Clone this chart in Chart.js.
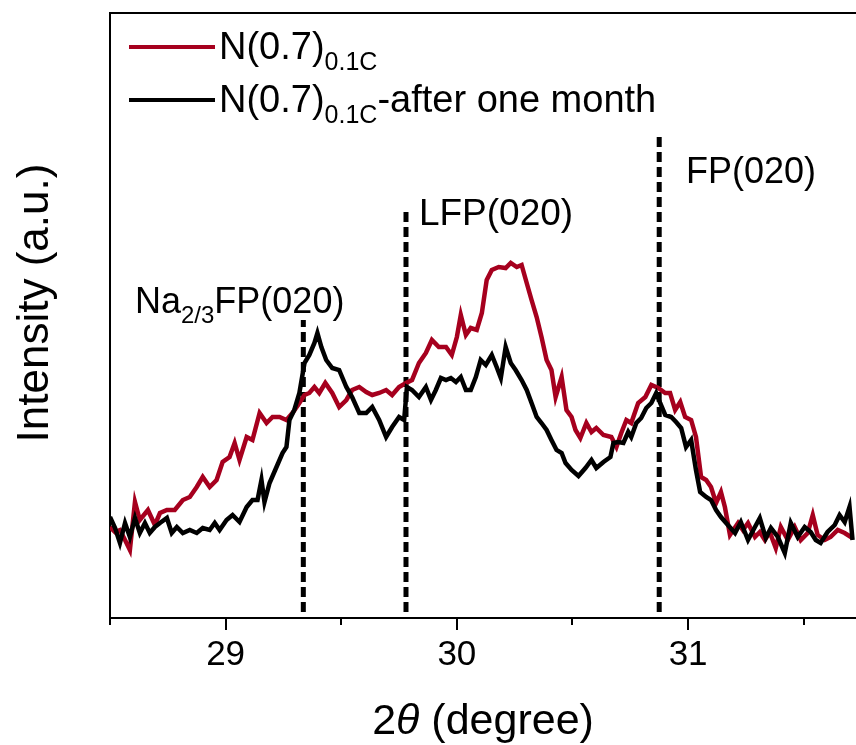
<!DOCTYPE html>
<html>
<head>
<meta charset="utf-8">
<script src="https://cdn.jsdelivr.net/npm/chart.js@4.4.1/dist/chart.umd.min.js"></script>
<style>
  html, body { margin: 0; padding: 0; background: #fff; }
  #wrap { position: relative; width: 856px; height: 745px; }
</style>
</head>
<body>
<div id="wrap"><canvas id="xrdChart" width="856" height="745"></canvas></div>
<script>
// 2theta (degree) / intensity (a.u.)
const redX = [
  28.500, 28.522, 28.543, 28.565, 28.586, 28.608, 28.629, 28.664, 28.694, 28.716,
  28.746, 28.780, 28.815, 28.845, 28.875, 28.901, 28.931, 28.961, 28.987, 29.017,
  29.039, 29.060, 29.091, 29.116, 29.147, 29.177, 29.203, 29.233, 29.263, 29.289,
  29.319, 29.341, 29.362, 29.384, 29.405, 29.431, 29.461, 29.491, 29.522, 29.547,
  29.578, 29.608, 29.634, 29.664, 29.694, 29.720, 29.750, 29.780, 29.806, 29.836,
  29.866, 29.892, 29.922, 29.953, 29.978, 30.000, 30.017, 30.039, 30.060, 30.086,
  30.108, 30.129, 30.151, 30.181, 30.211, 30.233, 30.259, 30.280, 30.302, 30.323,
  30.345, 30.366, 30.388, 30.409, 30.427, 30.440, 30.453, 30.474, 30.496, 30.513,
  30.534, 30.560, 30.582, 30.603, 30.634, 30.668, 30.690, 30.711, 30.733, 30.754,
  30.784, 30.815, 30.841, 30.871, 30.901, 30.922, 30.944, 30.966, 30.987, 31.013,
  31.034, 31.056, 31.078, 31.099, 31.121, 31.142, 31.159, 31.181, 31.216, 31.237,
  31.259, 31.289, 31.310, 31.332, 31.353, 31.379, 31.401, 31.431, 31.461, 31.487,
  31.517, 31.539, 31.560, 31.591, 31.616, 31.647, 31.677, 31.711
];
const redY = [
  91, 86, 88, 78, 68, 116, 98, 108, 93, 105,
  108, 108, 118, 121, 131, 141, 131, 138, 156, 161,
  175, 158, 181, 178, 205, 195, 201, 201, 198, 205,
  215, 223, 225, 231, 225, 235, 225, 211, 218, 228,
  231, 226, 223, 225, 228, 223, 231, 235, 238, 255,
  265, 278, 271, 271, 263, 281, 303, 283, 290, 288,
  305, 338, 348, 351, 350, 355, 351, 353, 335, 318,
  301, 281, 258, 248, 221, 231, 241, 208, 201, 188,
  180, 195, 186, 190, 183, 181, 171, 185, 198, 195,
  215, 221, 233, 230, 225, 225, 208, 216, 201, 198,
  181, 141, 138, 131, 115, 126, 111, 83, 95, 88,
  95, 81, 86, 78, 86, 70, 91, 78, 91, 78,
  85, 103, 83, 78, 81, 88, 85, 80
];

const blackX = [
  28.500, 28.522, 28.543, 28.565, 28.586, 28.608, 28.629, 28.651, 28.672, 28.694,
  28.716, 28.746, 28.767, 28.789, 28.815, 28.845, 28.875, 28.901, 28.931, 28.953,
  28.974, 29.004, 29.030, 29.060, 29.091, 29.116, 29.138, 29.155, 29.168, 29.190,
  29.220, 29.246, 29.263, 29.276, 29.297, 29.319, 29.341, 29.362, 29.384, 29.397,
  29.414, 29.435, 29.461, 29.491, 29.522, 29.547, 29.578, 29.608, 29.634, 29.664,
  29.694, 29.720, 29.750, 29.772, 29.784, 29.806, 29.836, 29.866, 29.888, 29.909,
  29.931, 29.953, 29.974, 29.996, 30.017, 30.039, 30.060, 30.082, 30.103, 30.125,
  30.151, 30.172, 30.190, 30.211, 30.233, 30.254, 30.280, 30.302, 30.323, 30.345,
  30.366, 30.388, 30.409, 30.431, 30.453, 30.470, 30.496, 30.526, 30.556, 30.582,
  30.603, 30.634, 30.664, 30.677, 30.698, 30.720, 30.741, 30.754, 30.776, 30.797,
  30.819, 30.841, 30.862, 30.879, 30.901, 30.927, 30.948, 30.970, 30.991, 31.013,
  31.034, 31.052, 31.078, 31.099, 31.121, 31.142, 31.172, 31.203, 31.228, 31.259,
  31.289, 31.310, 31.336, 31.358, 31.388, 31.418, 31.444, 31.474, 31.504, 31.530,
  31.552, 31.573, 31.603, 31.634, 31.655, 31.677, 31.698, 31.711
];
const blackY = [
  101, 90, 75, 95, 81, 100, 85, 95, 85, 91,
  95, 100, 85, 91, 85, 88, 85, 90, 88, 95,
  88, 98, 103, 96, 111, 118, 118, 138, 116, 135,
  151, 165, 171, 198, 208, 225, 255, 263, 275, 285,
  271, 258, 250, 248, 231, 221, 205, 205, 211, 198,
  181, 191, 201, 198, 231, 228, 221, 231, 218, 228,
  240, 238, 240, 236, 241, 228, 228, 241, 258, 253,
  263, 251, 240, 271, 255, 248, 238, 228, 215, 201,
  195, 188, 178, 168, 165, 155, 148, 142, 150, 158,
  150, 156, 161, 175, 176, 175, 186, 181, 195, 200,
  210, 215, 225, 215, 203, 201, 196, 190, 171, 178,
  148, 126, 121, 118, 108, 101, 93, 85, 96, 78,
  91, 100, 80, 90, 81, 65, 95, 81, 91, 86,
  78, 75, 86, 93, 103, 96, 111, 78
];

// reference peak positions (dashed markers)
const markerX = [29.336, 29.780, 30.875];
const markerTop = [298, 411, 483];
const markerBase = 6;

const majorTicks = [29, 30, 31];
const minorTicks = [28.5, 29.5, 30.5, 31.5];

const RED = "#a6001e";
const FONT = "'Liberation Sans', Arial, sans-serif";

function zip(xs, ys) {
  return xs.map((x, i) => ({ x, y: ys[i] }));
}

function runsWidth(ctx, runs) {
  let w = 0;
  runs.forEach((r) => {
    ctx.font = `${r.italic ? "italic " : ""}${r.size}px ${FONT}`;
    w += ctx.measureText(r.text).width;
  });
  return w;
}

function drawRuns(ctx, x, y, runs) {
  let cx = x;
  runs.forEach((r) => {
    ctx.font = `${r.italic ? "italic " : ""}${r.size}px ${FONT}`;
    ctx.fillText(r.text, cx, y + (r.dy || 0));
    cx += ctx.measureText(r.text).width;
  });
}

const legendRows = [
  { color: RED, runs: [{ text: "N(0.7)", size: 38 }, { text: "0.1C", size: 25, dy: 11 }] },
  { color: "#000", runs: [{ text: "N(0.7)", size: 38 }, { text: "0.1C", size: 25, dy: 11 }, { text: "-after one month", size: 38 }] },
];

const peakLabels = [
  { x: 28.608, y: 305, runs: [{ text: "Na", size: 36 }, { text: "2/3", size: 24, dy: 10 }, { text: "FP(020)", size: 36 }] },
  { x: 29.836, y: 393, runs: [{ text: "LFP(020)", size: 37 }] },
  { x: 30.991, y: 435, runs: [{ text: "FP(020)", size: 36 }] },
];

const decorPlugin = {
  id: "decor",
  afterDraw(chart) {
    const { ctx, chartArea: area, scales } = chart;
    ctx.save();
    ctx.fillStyle = "#000";
    ctx.strokeStyle = "#000";
    ctx.textBaseline = "alphabetic";
    ctx.textAlign = "left";

    // top frame line
    ctx.lineWidth = 2;
    ctx.beginPath();
    ctx.moveTo(area.left, area.top);
    ctx.lineTo(area.right, area.top);
    ctx.stroke();

    // x tick marks
    majorTicks.forEach((v) => {
      const px = Math.round(scales.x.getPixelForValue(v));
      ctx.beginPath();
      ctx.moveTo(px, area.bottom);
      ctx.lineTo(px, area.bottom + 12);
      ctx.stroke();
    });
    minorTicks.forEach((v) => {
      const px = Math.round(scales.x.getPixelForValue(v));
      ctx.beginPath();
      ctx.moveTo(px, area.bottom);
      ctx.lineTo(px, area.bottom + 7);
      ctx.stroke();
    });

    // legend
    legendRows.forEach((row, i) => {
      const ly = area.top + 34 + i * 53;
      ctx.strokeStyle = row.color;
      ctx.lineWidth = 4;
      ctx.beginPath();
      ctx.moveTo(area.left + 19, ly);
      ctx.lineTo(area.left + 105, ly);
      ctx.stroke();
      drawRuns(ctx, area.left + 109, ly + 12, row.runs);
    });

    // peak labels
    peakLabels.forEach((lab) => {
      drawRuns(ctx, scales.x.getPixelForValue(lab.x), scales.y.getPixelForValue(lab.y), lab.runs);
    });

    // x title
    const xt = [{ text: "2", size: 43 }, { text: "θ", size: 43, italic: true }, { text: " (degree)", size: 43 }];
    const xw = runsWidth(ctx, xt);
    drawRuns(ctx, (area.left + area.right) / 2 - xw / 2, 734, xt);

    // y title
    ctx.translate(48, 303);
    ctx.rotate(-Math.PI / 2);
    ctx.font = `44px ${FONT}`;
    ctx.textAlign = "center";
    ctx.fillText("Intensity (a.u.)", 0, 0);
    ctx.restore();
  },
};

const markerSets = markerX.map((x, i) => ({
  data: [{ x, y: markerBase }, { x, y: markerTop[i] }],
  borderColor: "#000",
  borderWidth: 5,
  borderDash: [10, 5],
  pointRadius: 0,
  order: 3,
}));

new Chart(document.getElementById("xrdChart").getContext("2d"), {
  type: "line",
  data: {
    datasets: [
      { label: "N(0.7)0.1C", data: zip(redX, redY), borderColor: RED, borderWidth: 4.5, pointRadius: 0, tension: 0, order: 2 },
      { label: "N(0.7)0.1C-after one month", data: zip(blackX, blackY), borderColor: "#000", borderWidth: 4.5, pointRadius: 0, tension: 0, order: 1 },
      ...markerSets,
    ],
  },
  options: {
    responsive: false,
    animation: false,
    devicePixelRatio: 1,
    layout: { padding: { top: 13, left: 0, right: 0, bottom: 0 } },
    plugins: { legend: { display: false }, tooltip: { enabled: false } },
    scales: {
      x: {
        type: "linear",
        min: 28.5,
        max: 31.726,
        grid: { display: false, drawTicks: false },
        border: { display: true, color: "#000", width: 2 },
        afterBuildTicks: (scale) => {
          scale.ticks = majorTicks.map((v) => ({ value: v }));
        },
        afterFit: (scale) => { scale.height = 127; },
        ticks: {
          color: "#000",
          font: { family: FONT, size: 35 },
          padding: 16,
          maxRotation: 0,
          autoSkip: false,
          callback: (v) => String(v),
        },
      },
      y: {
        min: 0,
        max: 605,
        grid: { display: false },
        border: { display: true, color: "#000", width: 2 },
        ticks: { display: false },
        afterFit: (scale) => { scale.width = 110; },
      },
    },
  },
  plugins: [decorPlugin],
});
</script>
</body>
</html>
